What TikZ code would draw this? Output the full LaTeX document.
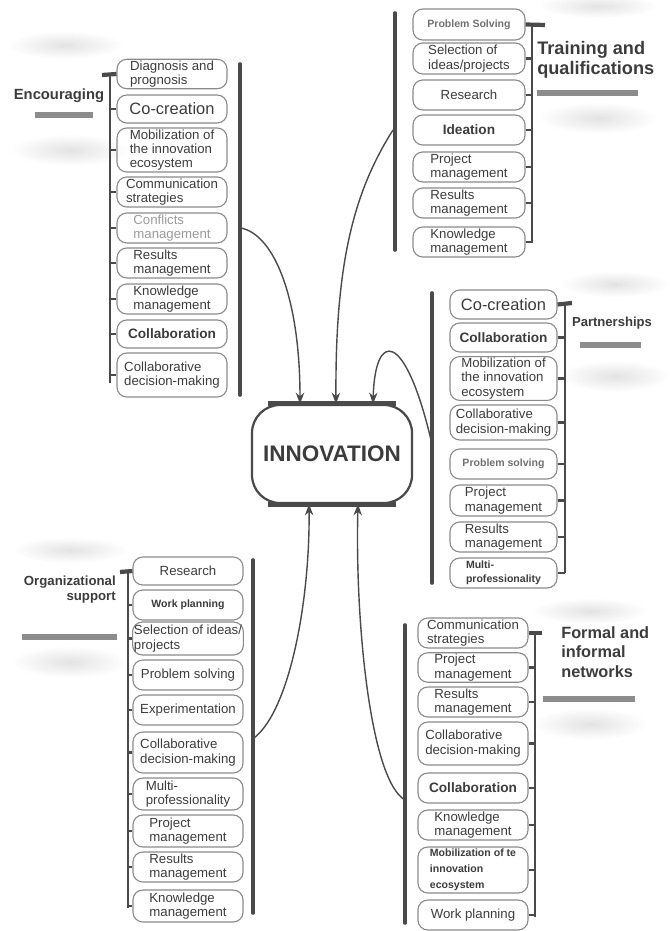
\documentclass[tikz,border=0pt]{standalone}
\usepackage{fontspec}
\setmainfont{Liberation Sans}
\usetikzlibrary{arrows.meta,calc}

\definecolor{boxgray}{HTML}{8A8A8A}
\definecolor{txtgray}{HTML}{3C3C3C}
\definecolor{midgray}{HTML}{707070}
\definecolor{fadegray}{HTML}{9A9A9A}
\definecolor{linegray}{HTML}{4A4A4A}
\definecolor{bargray}{HTML}{8C8C8C}

\begin{document}
\begin{tikzpicture}[x=0.025cm, y=-0.025cm,
    boxitem/.style={draw=boxgray, line width=0.8pt, rounded corners=7pt,
      minimum width=2.75cm, minimum height=0.74cm, inner sep=1pt,
      align=left, text=txtgray, font={\fontsize{9.4}{10.2}\selectfont}},
    boxh/.style={minimum height=#1*0.025cm},
    bigtxt/.style={font={\fontsize{11.7}{13}\selectfont}},
    strong/.style={font={\fontsize{9.7}{11}\selectfont\bfseries}},
    smallbold/.style={font={\fontsize{7.5}{10}\selectfont\bfseries}},
    grouplabel/.style={text=txtgray, inner sep=0pt},
    spine/.style={draw=linegray, line width=1pt},
    tickmark/.style={draw=linegray, line width=1.8pt},
    stub/.style={draw=linegray, line width=3pt},
    bracket/.style={draw=linegray, line width=2.6pt, line cap=round},
    underbar/.style={draw=bargray, line width=4.5pt},
    smudge/.style={inner color=black!11, outer color=white},
    link/.style={draw=linegray, line width=1pt, -{Stealth[length=8pt,width=6pt]}}]

  \useasboundingbox (0,0) rectangle (669,931);

  % Soft shadows around the group labels
  \shade[smudge] (65,45) ellipse (58 and 14);
  \shade[smudge] (70,150) ellipse (60 and 16);
  \shade[smudge] (598,6) ellipse (60 and 12);
  \shade[smudge] (598,118) ellipse (60 and 16);
  \shade[smudge] (615,284) ellipse (55 and 13);
  \shade[smudge] (615,376) ellipse (55 and 16);
  \shade[smudge] (590,611) ellipse (58 and 13);
  \shade[smudge] (590,724) ellipse (58 and 16);
  \shade[smudge] (70,550) ellipse (58 and 13);
  \shade[smudge] (70,662) ellipse (58 and 16);

  % Centre node
  \node[draw=linegray, line width=1.6pt, rounded corners=20pt,
    minimum width=4cm, minimum height=2.45cm,
    font={\fontsize{16}{18}\selectfont\bfseries}, text=txtgray] (innov) at (332,454) {INNOVATION};
  \draw[line width=3.5pt, linegray] ($(innov.north west)+(17,0)$) -- ($(innov.north east)+(-17,0)$);
  \draw[line width=3.5pt, linegray] ($(innov.south west)+(17,0)$) -- ($(innov.south east)+(-17,0)$);

  % Encouraging
  \node[boxitem, boxh=28] (e1) at (172,74) {Diagnosis and\\prognosis};
  \node[boxitem, boxh=28, bigtxt] (e2) at (172,109) {Co-creation};
  \node[boxitem, boxh=44] (e3) at (172,150) {Mobilization of\\the innovation\\ecosystem};
  \node[boxitem, boxh=30] (e4) at (172,192) {Communication\\strategies};
  \node[boxitem, boxh=30, text=fadegray] (e5) at (172,228) {Conflicts\\management};
  \node[boxitem, boxh=30] (e6) at (172,263) {Results\\management};
  \node[boxitem, boxh=30] (e7) at (172,299) {Knowledge\\management};
  \node[boxitem, boxh=28, strong] (e8) at (172,334) {Collaboration};
  \node[boxitem, boxh=44] (e9) at (172,375) {Collaborative\\decision-making};
  \node[grouplabel, font={\fontsize{10.5}{12}\selectfont\bfseries}] (enc) at (59,96) {Encouraging};
  \draw[underbar] (35,115) -- (93,115);

  \coordinate (es-top) at (110,75);
  \coordinate (es-bot) at (110,383);
  \coordinate (es-stub) at (102,75);
  \draw[spine] (es-top) -- (es-bot);
  \draw[stub] (es-stub) -- (e1.west);
  \draw[tickmark] (e2.west -| es-top) -- (e2.west) (e3.west -| es-top) -- (e3.west)
    (e4.west -| es-top) -- (e4.west) (e5.west -| es-top) -- (e5.west)
    (e6.west -| es-top) -- (e6.west) (e7.west -| es-top) -- (e7.west)
    (e8.west -| es-top) -- (e8.west) (e9.west -| es-top) -- (e9.west);
  \coordinate (eb-top) at (240,64);
  \coordinate (eb-bot) at (240,395);
  \draw[bracket] (eb-top) -- (eb-bot);

  % Training and qualifications
  \node[boxitem, minimum width=2.8cm, boxh=31, smallbold, text=midgray] (t1) at (469,24.5) {Problem Solving};
  \node[boxitem, minimum width=2.8cm, boxh=31] (t2) at (469,58.5) {Selection of\\ideas/projects};
  \node[boxitem, minimum width=2.8cm, boxh=30] (t3) at (469,95) {Research};
  \node[boxitem, minimum width=2.8cm, boxh=30, strong] (t4) at (469,130) {Ideation};
  \node[boxitem, minimum width=2.8cm, boxh=30] (t5) at (469,167) {Project\\management};
  \node[boxitem, minimum width=2.8cm, boxh=30] (t6) at (469,203) {Results\\management};
  \node[boxitem, minimum width=2.8cm, boxh=30] (t7) at (469,242) {Knowledge\\management};
  \node[grouplabel, anchor=west, align=left, font={\fontsize{12.9}{14.2}\selectfont\bfseries}] (trn) at (537,60) {Training and\\qualifications};
  \draw[underbar] (537,93) -- (638,93);

  \coordinate (ts-top) at (532,25);
  \coordinate (ts-bot) at (532,243);
  \coordinate (ts-stub) at (545,25);
  \draw[spine] (ts-top) -- (ts-bot);
  \draw[stub] (t1.east) -- (ts-stub);
  \draw[tickmark] (t2.east) -- (t2.east -| ts-top) (t3.east) -- (t3.east -| ts-top)
    (t4.east) -- (t4.east -| ts-top) (t5.east) -- (t5.east -| ts-top)
    (t6.east) -- (t6.east -| ts-top) (t7.east) -- (t7.east -| ts-top);
  \coordinate (tb-top) at (395,13);
  \coordinate (tb-bot) at (395,250);
  \draw[bracket] (tb-top) -- (tb-bot);

  % Partnerships
  \node[boxitem, minimum width=2.675cm, boxh=29, bigtxt] (p1) at (503.5,304.5) {Co-creation};
  \node[boxitem, minimum width=2.675cm, boxh=29, strong] (p2) at (503.5,337.5) {Collaboration};
  \node[boxitem, minimum width=2.675cm, boxh=43] (p3) at (503.5,378.5) {Mobilization of\\the innovation\\ecosystem};
  \node[boxitem, minimum width=2.675cm, boxh=35] (p4) at (503.5,422.5) {Collaborative\\decision-making};
  \node[boxitem, minimum width=2.675cm, boxh=30, smallbold, text=midgray] (p5) at (503.5,464) {Problem solving};
  \node[boxitem, minimum width=2.675cm, boxh=31] (p6) at (503.5,500.5) {Project\\management};
  \node[boxitem, minimum width=2.675cm, boxh=30] (p7) at (503.5,537) {Results\\management};
  \node[boxitem, minimum width=2.675cm, boxh=30, smallbold] (p8) at (503.5,573) {Multi-\\professionality};
  \node[grouplabel, font={\fontsize{9.3}{11}\selectfont\bfseries}] (prt) at (612,323) {Partnerships};
  \draw[underbar] (580,345) -- (641,345);

  \coordinate (ps-top) at (565,303);
  \coordinate (ps-bot) at (565,573);
  \coordinate (ps-stub) at (572,303);
  \draw[spine] (ps-top) -- (ps-bot);
  \draw[stub] (p1.east) -- (ps-stub);
  \draw[tickmark] (p2.east) -- (p2.east -| ps-top) (p3.east) -- (p3.east -| ps-top)
    (p4.east) -- (p4.east -| ps-top) (p5.east) -- (p5.east -| ps-top)
    (p6.east) -- (p6.east -| ps-top) (p7.east) -- (p7.east -| ps-top)
    (p8.east) -- (p8.east -| ps-top);
  \coordinate (pb-top) at (432,293);
  \coordinate (pb-bot) at (432,583);
  \draw[bracket] (pb-top) -- (pb-bot);

  % Formal and informal networks
  \node[boxitem, boxh=30] (f1) at (473,633) {Communication\\strategies};
  \node[boxitem, boxh=29] (f2) at (473,667.5) {Project\\management};
  \node[boxitem, boxh=30] (f3) at (473,702) {Results\\management};
  \node[boxitem, boxh=43] (f4) at (473,743.5) {Collaborative\\decision-making};
  \node[boxitem, boxh=30, strong] (f5) at (473,788) {Collaboration};
  \node[boxitem, boxh=30] (f6) at (473,825) {Knowledge\\management};
  \node[boxitem, boxh=46, font={\fontsize{7.5}{11.3}\selectfont\bfseries}] (f7) at (473,870) {Mobilization of te\\innovation\\ecosystem};
  \node[boxitem, boxh=30] (f8) at (473,915) {Work planning};
  \node[grouplabel, anchor=west, align=left, font={\fontsize{11.6}{13.9}\selectfont\bfseries}] (frm) at (561,652) {Formal and\\informal\\networks};
  \draw[underbar] (543,699) -- (635,699);

  \coordinate (fs-top) at (535,633);
  \coordinate (fs-bot) at (535,917);
  \coordinate (fs-stub) at (542,633);
  \draw[spine] (fs-top) -- (fs-bot);
  \draw[stub] (f1.east) -- (fs-stub);
  \draw[tickmark] (f2.east) -- (f2.east -| fs-top) (f3.east) -- (f3.east -| fs-top)
    (f4.east) -- (f4.east -| fs-top) (f5.east) -- (f5.east -| fs-top)
    (f6.east) -- (f6.east -| fs-top) (f7.east) -- (f7.east -| fs-top)
    (f8.east) -- (f8.east -| fs-top);
  \coordinate (fb-top) at (405,625);
  \coordinate (fb-bot) at (405,923);
  \draw[bracket] (fb-top) -- (fb-bot);

  % Organizational support
  \node[boxitem, boxh=28] (o1) at (188,571) {Research};
  \node[boxitem, boxh=30, smallbold] (o2) at (188,605) {Work planning};
  \node[boxitem, boxh=33] (o3) at (188,638.5) {Selection of ideas/\\projects};
  \node[boxitem, boxh=30] (o4) at (188,675) {Problem solving};
  \node[boxitem, boxh=30] (o5) at (188,710) {Experimentation};
  \node[boxitem, boxh=41] (o6) at (188,752.5) {Collaborative\\decision-making};
  \node[boxitem, boxh=32] (o7) at (188,794) {Multi-\\professionality};
  \node[boxitem, boxh=32] (o8) at (188,831) {Project\\management};
  \node[boxitem, boxh=30] (o9) at (188,867) {Results\\management};
  \node[boxitem, boxh=32] (o10) at (188,906) {Knowledge\\management};
  \node[grouplabel, anchor=east, align=right, font={\fontsize{9.4}{10.7}\selectfont\bfseries}] (org) at (116,590) {Organizational\\support};
  \draw[underbar] (22,637) -- (117,637);

  \coordinate (os-top) at (128,572);
  \coordinate (os-bot) at (128,908);
  \coordinate (os-stub) at (120,572);
  \draw[spine] (os-top) -- (os-bot);
  \draw[stub] (os-stub) -- (o1.west);
  \draw[tickmark] (o2.west -| os-top) -- (o2.west) (o3.west -| os-top) -- (o3.west)
    (o4.west -| os-top) -- (o4.west) (o5.west -| os-top) -- (o5.west)
    (o6.west -| os-top) -- (o6.west) (o7.west -| os-top) -- (o7.west)
    (o8.west -| os-top) -- (o8.west) (o9.west -| os-top) -- (o9.west)
    (o10.west -| os-top) -- (o10.west);
  \coordinate (ob-top) at (253,560);
  \coordinate (ob-bot) at (253,913);
  \draw[bracket] (ob-top) -- (ob-bot);

  % Links into INNOVATION
  \coordinate (enc-out) at (241,228);
  \coordinate (trn-out) at (393,130);
  \coordinate (prt-out) at (431,440);
  \coordinate (frm-out) at (405,800);
  \coordinate (org-out) at (254,738);
  \draw[link] (enc-out) .. controls (275,235) and (300,300) .. ($(innov.north)+(-32,0)$);
  \draw[link] (trn-out) .. controls (355,190) and (335,260) .. ($(innov.north)+(4,0)$);
  \draw[link] (prt-out) .. controls (405,330) and (375,330) .. ($(innov.north)+(41,0)$);
  \draw[link] (org-out) .. controls (290,710) and (310,600) .. ($(innov.south)+(-23,0)$);
  \draw[link] (frm-out) .. controls (370,780) and (355,620) .. ($(innov.south)+(26,0)$);
\end{tikzpicture}
\end{document}
